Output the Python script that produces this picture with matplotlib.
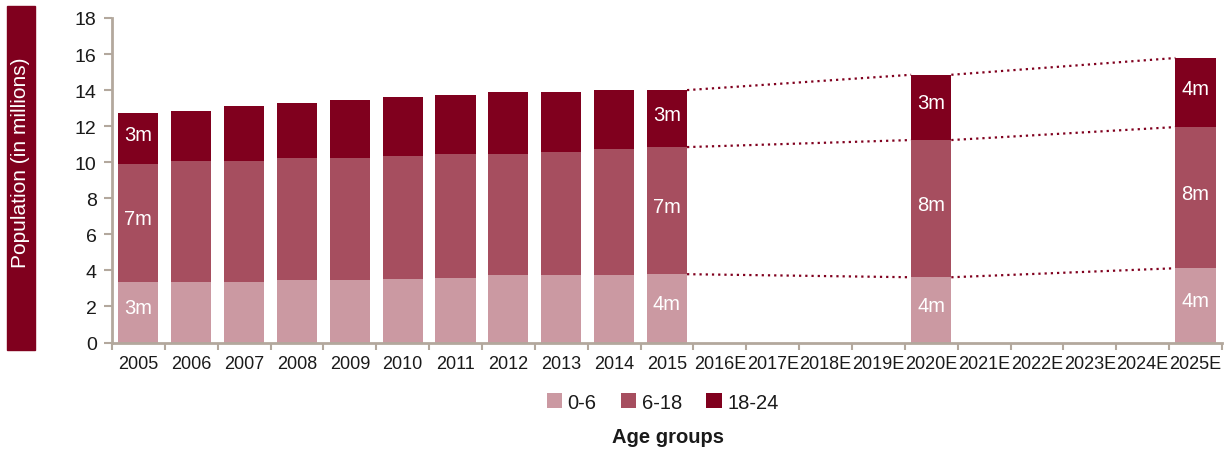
import numpy as np
import matplotlib.pyplot as plt
from matplotlib.patches import Rectangle

plt.rcParams['font.family'] = ['Liberation Sans', 'DejaVu Sans']

# Data (millions)
categories = ['2005', '2006', '2007', '2008', '2009', '2010', '2011', '2012', '2013',
              '2014', '2015', '2016E', '2017E', '2018E', '2019E', '2020E', '2021E',
              '2022E', '2023E', '2024E', '2025E']
bar_years = ['2005', '2006', '2007', '2008', '2009', '2010', '2011', '2012', '2013',
             '2014', '2015', '2020E', '2025E']
age_0_6 = [3.35, 3.35, 3.35, 3.46, 3.46, 3.51, 3.58, 3.73, 3.73, 3.73, 3.79, 3.62, 4.12]
age_6_18 = [6.55, 6.72, 6.72, 6.77, 6.77, 6.83, 6.87, 6.72, 6.83, 7.00, 7.05, 7.61, 7.83]
age_18_24 = [2.82, 2.77, 3.04, 3.05, 3.22, 3.27, 3.28, 3.44, 3.33, 3.27, 3.16, 3.62, 3.83]
series_names = ['0-6', '6-18', '18-24']

labelled_years = ['2005', '2015', '2020E', '2025E']
labels_0_6 = ['3m', '4m', '4m', '4m']
labels_6_18 = ['7m', '7m', '8m', '8m']
labels_18_24 = ['3m', '3m', '3m', '4m']

# trend lines join these years
trend_years = ['2015', '2020E', '2025E']

colors = ['#CB99A2', '#A64E5F', '#80001E']
spine_col = '#B3A89D'
text_col = '#1a1a1a'
W = 0.76

fig = plt.figure(figsize=(12.25, 4.52), dpi=100)
ax = fig.add_axes([0.0914, 0.240, 0.9061, 0.718])

x = np.array([categories.index(y) for y in bar_years])
series = [np.array(age_0_6), np.array(age_6_18), np.array(age_18_24)]
bottom = np.zeros(len(x))
tops = []
for vals, c, name in zip(series, colors, series_names):
    ax.bar(x, vals, W, bottom=bottom, color=c, label=name, zorder=2)
    bottom = bottom + vals
    tops.append(bottom.copy())

# value labels
lows = [np.zeros(len(x)), tops[0], tops[1]]
for k, labs in enumerate([labels_0_6, labels_6_18, labels_18_24]):
    for yr, lab in zip(labelled_years, labs):
        i = bar_years.index(yr)
        mid = (lows[k][i] + tops[k][i]) / 2
        ax.text(x[i], mid + 0.25, lab, ha='center', va='center', color='white',
                fontsize=14.5, zorder=3)

# dotted trend lines between forecast bars
for k in range(3):
    for a, b in zip(trend_years[:-1], trend_years[1:]):
        ia, ib = bar_years.index(a), bar_years.index(b)
        ax.plot([x[ia] + W / 2, x[ib] - W / 2], [tops[k][ia], tops[k][ib]],
                color='#80001E', lw=1.6, linestyle=(0, (1, 1.8)), zorder=1)

ax.set_xlim(-0.5, len(categories) - 0.5)
ax.set_ylim(0, 18)
ax.set_yticks(range(0, 19, 2))
ax.set_xticks(range(len(categories)))
ax.set_xticklabels(categories)
ax.set_xticks(np.arange(-0.5, len(categories), 1), minor=True)
ax.tick_params(axis='x', which='major', length=0, pad=9, labelsize=13, colors=text_col)
ax.tick_params(axis='x', which='minor', length=5, width=1.5, color=spine_col)
ax.tick_params(axis='y', length=6, width=1.5, color=spine_col, labelsize=14,
               labelcolor=text_col, pad=5)
for s in ['top', 'right']:
    ax.spines[s].set_visible(False)
for s in ['left', 'bottom']:
    ax.spines[s].set_color(spine_col)
    ax.spines[s].set_linewidth(2)

# y label in a coloured box
fig.patches.append(Rectangle((7 / 1225, 1 - 351 / 452), 28 / 1225, 344 / 452,
                             transform=fig.transFigure, color='#80001E', zorder=0))
fig.text(21 / 1225, 1 - 163 / 452, 'Population (in millions)', rotation=90,
         ha='center', va='center', color='white', fontsize=15)

leg = fig.legend(loc='center', bbox_to_anchor=(0.541, 0.108), ncol=3, frameon=False,
                 fontsize=14.5, handlelength=0.75, handleheight=0.75,
                 handletextpad=0.3, columnspacing=1.2)
for t in leg.get_texts():
    t.set_color(text_col)
fig.text(0.545, 0.033, 'Age groups', ha='center', va='center', fontsize=14.5,
         fontweight='bold', color=text_col)

fig.savefig('out.png', dpi=100)
